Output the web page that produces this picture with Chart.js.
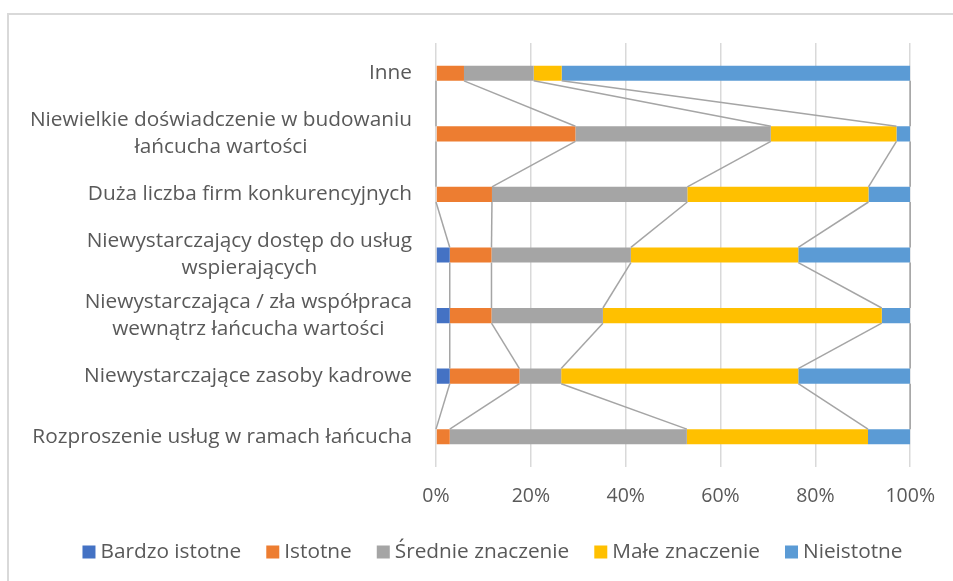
<!DOCTYPE html>
<html>
<head>
<meta charset="utf-8">
<script src="https://cdn.jsdelivr.net/npm/chart.js@4/dist/chart.umd.min.js"></script>
<style>
  html, body { margin: 0; padding: 0; background: #ffffff; }
  #wrap { position: relative; width: 953px; height: 581px; }
</style>
</head>
<body>
<div id="wrap"><canvas id="c" width="953" height="581"></canvas></div>
<script>
// ---- data (percent of answers) ----
const categories = [
  ["Inne"],
  ["Niewielkie doświadczenie w budowaniu", "łańcucha wartości"],
  ["Duża liczba firm konkurencyjnych"],
  ["Niewystarczający dostęp do usług", "wspierających"],
  ["Niewystarczająca / zła współpraca", "wewnątrz łańcucha wartości"],
  ["Niewystarczające zasoby kadrowe"],
  ["Rozproszenie usług w ramach łańcucha"]
];
const seriesNames = ["Bardzo istotne", "Istotne", "Średnie znaczenie", "Małe znaczenie", "Nieistotne"];
const bardzoIstotne   = [0,    0,    0,    2.9,  2.9,  2.9,  0];
const istotne         = [5.9,  29.4, 11.8, 8.8,  8.8,  14.7, 2.9];
const srednieZnacz    = [14.7, 41.2, 41.2, 29.4, 23.5, 8.8,  50.0];
const maleZnacz       = [5.9,  26.5, 38.2, 35.3, 58.8, 50.0, 38.2];
const nieistotne      = [73.5, 2.9,  8.8,  23.6, 6.0,  23.6, 8.9];
const xTicks = [0, 20, 40, 60, 80, 100];

const seriesValues = [bardzoIstotne, istotne, srednieZnacz, maleZnacz, nieistotne];
const seriesColors = ["#4472C4", "#ED7D31", "#A5A5A5", "#FFC000", "#5B9BD5"];

const FONT = "'Open Sans'";
const FSIZE = 20.8;
const TICKSIZE = 19.5;
const TXT = "#595959";

const frame = {
  id: 'frame',
  beforeDraw(chart) {
    const ctx = chart.ctx;
    ctx.save();
    ctx.fillStyle = '#ffffff';
    ctx.fillRect(0, 0, chart.width, chart.height);
    ctx.strokeStyle = '#d9d9d9';
    ctx.lineWidth = 2;
    ctx.beginPath();
    ctx.moveTo(8, chart.height + 5);
    ctx.lineTo(8, 14);
    ctx.lineTo(chart.width + 5, 14);
    ctx.stroke();
    ctx.restore();
  }
};

const seriesLines = {
  id: 'seriesLines',
  afterDatasetsDraw(chart) {
    const ctx = chart.ctx;
    ctx.save();
    ctx.strokeStyle = '#A5A5A5';
    ctx.lineWidth = 1.5;
    chart.data.datasets.forEach((ds, di) => {
      const els = chart.getDatasetMeta(di).data;
      for (let i = 0; i < els.length - 1; i++) {
        const a = els[i], b = els[i + 1];
        ctx.beginPath();
        ctx.moveTo(a.x, a.y + a.height / 2);
        ctx.lineTo(b.x, b.y - b.height / 2);
        ctx.stroke();
      }
    });
    ctx.restore();
  }
};

const yLabels = {
  id: 'yLabels',
  afterDraw(chart) {
    const ctx = chart.ctx;
    const ys = chart.scales.y;
    const rightX = chart.chartArea.left - 24;
    const lh = 27;
    ctx.save();
    ctx.font = FSIZE + "px " + FONT;
    ctx.fillStyle = TXT;
    ctx.textAlign = 'center';
    ctx.textBaseline = 'middle';
    categories.forEach((lines, i) => {
      const yc = ys.getPixelForValue(i);
      let w = 0;
      lines.forEach(l => { w = Math.max(w, ctx.measureText(l).width); });
      const cx = rightX - w / 2;
      const y0 = yc - (lines.length - 1) * lh / 2;
      lines.forEach((l, k) => ctx.fillText(l, cx, y0 + k * lh));
    });
    ctx.restore();
  }
};

const legendPlugin = {
  id: 'customLegend',
  afterDraw(chart) {
    const ctx = chart.ctx;
    ctx.save();
    ctx.font = FSIZE + "px " + FONT;
    ctx.textBaseline = 'middle';
    ctx.textAlign = 'left';
    const box = 13, gap = 5, itemGap = 25;
    const widths = seriesNames.map(n => box + gap + ctx.measureText(n).width);
    const total = widths.reduce((s, w) => s + w, 0) + itemGap * (seriesNames.length - 1);
    let x = 492.5 - total / 2;
    const yc = 552;
    seriesNames.forEach((n, i) => {
      ctx.fillStyle = seriesColors[i];
      ctx.fillRect(x, yc - box / 2, box, box);
      ctx.fillStyle = TXT;
      ctx.fillText(n, x + box + gap, yc);
      x += widths[i] + itemGap;
    });
    ctx.restore();
  }
};

new Chart(document.getElementById('c'), {
  type: 'bar',
  data: {
    labels: categories,
    datasets: seriesNames.map((name, i) => ({
      label: name,
      data: seriesValues[i],
      backgroundColor: seriesColors[i],
      borderWidth: 0,
      barPercentage: 0.25,
      categoryPercentage: 1
    }))
  },
  options: {
    indexAxis: 'y',
    responsive: false,
    animation: false,
    devicePixelRatio: 1,
    layout: { padding: { left: 36, right: 39, top: 43, bottom: 64 } },
    plugins: {
      legend: { display: false },
      tooltip: { enabled: false }
    },
    scales: {
      x: {
        stacked: true,
        min: 0,
        max: 100,
        afterBuildTicks(scale) { scale.ticks = xTicks.map(v => ({ value: v })); },
        afterFit(scale) { scale.height = 50; },
        grid: { color: '#d9d9d9', lineWidth: 1.5, drawTicks: false },
        border: { display: false },
        ticks: {
          padding: 18,
          color: TXT,
          font: { family: FONT, size: TICKSIZE },
          callback: v => v + '%'
        }
      },
      y: {
        stacked: true,
        afterFit(scale) { scale.width = 400; },
        grid: { display: false, drawTicks: false },
        border: { display: false },
        ticks: { display: false }
      }
    }
  },
  plugins: [frame, seriesLines, yLabels, legendPlugin]
});
</script>
</body>
</html>
